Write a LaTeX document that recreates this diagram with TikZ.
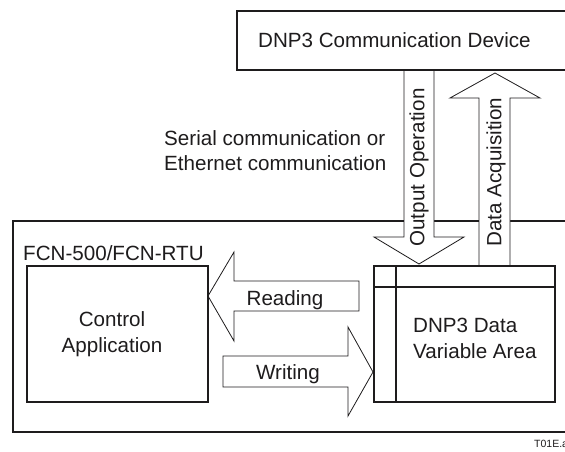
\documentclass[tikz,border=0pt]{standalone}
\usepackage{fontspec}
\setmainfont{Liberation Sans}
\usetikzlibrary{positioning}
\definecolor{FcnInk}{RGB}{30,28,29}
\tikzset{
  fcn/frame/.style={
    draw=FcnInk,
    line width=2.6pt,
    fill=white,
    inner sep=0pt
  },
  fcn/box/.style={
    draw=FcnInk,
    line width=1.6pt,
    fill=white,
    inner sep=0pt
  },
  fcn/blockarrow/.style={draw=FcnInk, line width=0.8pt, fill=white, line join=miter},
  fcn/divider/.style={draw=FcnInk, line width=1.6pt},
  fcn/label/.style={font=\fontsize{20.6}{25.5}\selectfont, text=FcnInk, inner sep=0pt},
  fcn/tinylabel/.style={font=\fontsize{10.5}{12}\selectfont, text=FcnInk, inner sep=0pt}
}

\begin{document}
\begin{tikzpicture}[x=1pt,y=-1pt]
  \useasboundingbox (0,0) rectangle (565,451);
  % controller housing
  \node[fcn/frame, minimum width=607pt, minimum height=211pt] (fcn) at (316.5,326.5) {};
  % block arrows between device and data area
  \draw[fcn/blockarrow] (404,70) -- (404,237) -- (374,237) -- (419,264) -- (464,237) -- (434,237) -- (434,70) -- cycle;
  \draw[fcn/blockarrow] (479,266) -- (479,98) -- (450,98) -- (495,73) -- (540,98) -- (510,98) -- (510,266) -- cycle;
  \draw[fcn/blockarrow] (359,281) -- (234,281) -- (234,252) -- (208,296) -- (234,341) -- (234,311) -- (359,311) -- cycle;
  \draw[fcn/blockarrow] (223,356) -- (348,356) -- (348,327) -- (373,372) -- (348,416) -- (348,387) -- (223,387) -- cycle;
  % boxes
  \node[fcn/frame, line width=2.2pt, minimum width=383pt, minimum height=59pt] (dev) at (428.5,40.5) {};
  \node[fcn/box, minimum width=181pt, minimum height=136pt] (ctrl) at (117.5,334) {};
  \node[fcn/box, minimum width=181pt, minimum height=136pt] (dnp) at (464.5,334) {};
  \draw[fcn/divider] ([xshift=23pt]dnp.north west) -- ([xshift=23pt]dnp.south west);
  \draw[fcn/divider] ([yshift=-22pt]dnp.north west) -- ([yshift=-22pt]dnp.north east);
  % texts
  \node[fcn/label, anchor=base west] (devlbl) at (258,47) {DNP3 Communication Device};
  \node[fcn/label, anchor=north west, align=left] (link) at (164,130) {Serial communication or\\Ethernet communication};
  \node[fcn/label, anchor=base west] (fcnlbl) at (23,260) {FCN-500/FCN-RTU};
  \node[fcn/label, align=center] (ctrllbl) at (112,334) {Control\\Application};
  \node[fcn/label, anchor=west, align=left] (dnplbl) at (413,338.5) {DNP3 Data\\Variable Area};
  \node[fcn/label, anchor=base] (read) at (285,305) {Reading};
  \node[fcn/label, anchor=base] (write) at (288,379) {Writing};
  \node[fcn/label, rotate=90] (outop) at (419,167.5) {Output Operation};
  \node[fcn/label, rotate=90] (acq) at (496,172) {Data Acquisition};
  \node[fcn/tinylabel, anchor=base west] (figid) at (534,447) {T01E.ai};
\end{tikzpicture}
\end{document}
